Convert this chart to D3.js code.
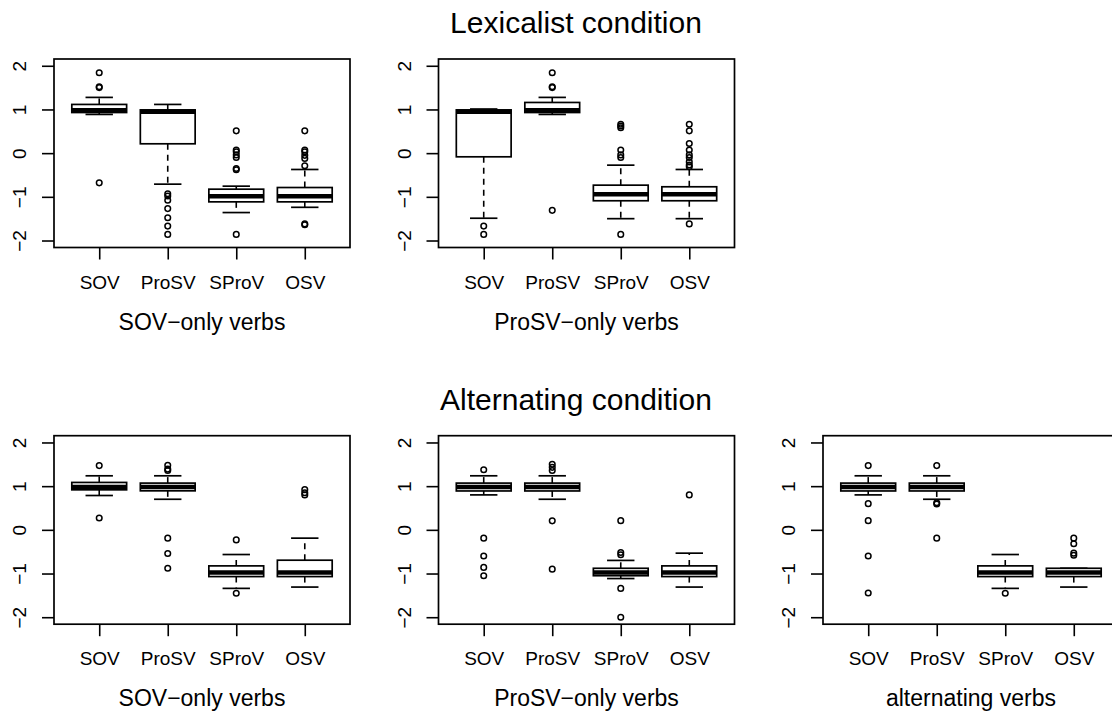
<!DOCTYPE html>
<html>
<head>
<meta charset="utf-8">
<script src="https://cdn.jsdelivr.net/npm/d3@7"></script>
<style>
  body { margin: 0; background: #fff; }
  svg { display: block; font-family: "Liberation Sans", Arial, sans-serif; }
</style>
</head>
<body>
<div id="chart"></div>
<script>
// categories and axis ticks
var categories = ["SOV", "ProSV", "SProV", "OSV"];
var yTicks = [-2, -1, 0, 1, 2];
var rowTitles = ["Lexicalist condition", "Alternating condition"];
var panelTitles = ["SOV\u2212only verbs", "ProSV\u2212only verbs", "SOV\u2212only verbs", "ProSV\u2212only verbs", "alternating verbs"];

// box stats per category: [lower whisker, Q1, median, Q3, upper whisker]
var lexSovStats = [[0.886, 0.93, 0.98, 1.115, 1.276], [-0.71, 0.214, 0.95, 0.99, 1.115], [-1.36, -1.115, -0.985, -0.825, -0.756], [-1.24, -1.115, -0.985, -0.787, -0.374]];
var lexSovOut = [[1.84, 1.52, 1.50, -0.68], [-0.93, -0.98, -1.08, -1.27, -1.48, -1.67, -1.86], [0.51, 0.07, 0.03, -0.04, -0.1, -0.35, -0.38, -1.86], [0.51, 0.07, 0.03, -0.05, -0.12, -0.29, -1.62, -1.64]];

var lexProStats = [[-1.49, -0.084, 0.95, 0.99, 1.01], [0.886, 0.93, 0.98, 1.16, 1.276], [-1.5, -1.09, -0.94, -0.733, -0.275], [-1.5, -1.09, -0.94, -0.77, -0.374]];
var lexProOut = [[-1.67, -1.86], [1.84, 1.52, 1.50, -1.31], [0.66, 0.62, 0.58, 0.07, -0.04, -0.1, -1.86], [0.66, 0.51, 0.22, 0.07, -0.04, -0.1, -0.2, -0.27, -0.31, -1.62]];

var altSovStats = [[0.786, 0.916, 0.978, 1.085, 1.237], [0.70, 0.893, 0.98, 1.07, 1.237], [-1.34, -1.07, -0.977, -0.825, -0.565], [-1.31, -1.07, -0.977, -0.695, -0.19]];
var altSovOut = [[1.47, 0.27], [1.48, 1.39, 1.36, -0.19, -0.54, -0.88], [-0.23, -1.45], [0.92, 0.85, 0.80]];

var altProStats = [[0.80, 0.89, 0.98, 1.07, 1.237], [0.70, 0.89, 0.98, 1.07, 1.237], [-1.115, -1.05, -0.977, -0.88, -0.70], [-1.31, -1.07, -0.977, -0.825, -0.534]];
var altProOut = [[1.375, -0.19, -0.60, -0.86, -1.05], [1.5, 1.43, 1.36, 0.206, -0.9], [0.21, -0.52, -0.57, -1.34, -2.0], [0.80]];

var altAltStats = [[0.80, 0.89, 0.98, 1.07, 1.237], [0.70, 0.89, 0.98, 1.07, 1.237], [-1.34, -1.07, -0.977, -0.825, -0.565], [-1.31, -1.07, -0.977, -0.88, -0.88]];
var altAltOut = [[1.47, 0.60, 0.21, -0.60, -1.445], [1.47, 0.62, 0.59, -0.19], [-1.45], [-0.19, -0.32, -0.534, -0.58]];

var panels = [
    { row: 0, col: 0, title: panelTitles[0], stats: lexSovStats, out: lexSovOut },
    { row: 0, col: 1, title: panelTitles[1], stats: lexProStats, out: lexProOut },
    { row: 1, col: 0, title: panelTitles[2], stats: altSovStats, out: altSovOut },
    { row: 1, col: 1, title: panelTitles[3], stats: altProStats, out: altProOut },
    { row: 1, col: 2, title: panelTitles[4], stats: altAltStats, out: altAltOut }
];

var width = 1112, height = 715;
var panelW = 296, panelH = 188.5;
var panelLeft = 54, panelStep = 384.5;
var rowTop = [59, 435.7];
var titleY = [33, 410];

var svg = d3.select("#chart").append("svg")
    .attr("width", width)
    .attr("height", height);

svg.selectAll("text.rowtitle")
    .data(rowTitles)
    .enter()
    .append("text")
    .attr("class", "rowtitle")
    .attr("x", 576)
    .attr("y", function (d, i) { return titleY[i]; })
    .attr("text-anchor", "middle")
    .style("font-size", "30px")
    .text(function (d) { return d; });

var x = d3.scaleLinear().domain([0.34, 4.66]).range([0, panelW]);
var y = d3.scaleLinear().domain([-2.16, 2.155]).range([panelH, 0]);
var boxW = x(0.8) - x(0);
var stapleW = boxW / 2;

panels.forEach(function (p) {
    var g = svg.append("g")
        .attr("transform", "translate(" + (panelLeft + p.col * panelStep) + "," + rowTop[p.row] + ")");

    // y axis with rotated labels
    var ya = g.append("g")
        .call(d3.axisLeft(y).tickValues(yTicks).tickSize(12).tickSizeOuter(0).tickFormat(d3.format("d")));
    ya.selectAll("line").attr("stroke-width", 1.6);
    ya.selectAll("text")
        .attr("transform", "rotate(-90)")
        .attr("x", 0)
        .attr("y", -28)
        .attr("dy", 0)
        .attr("text-anchor", "middle")
        .attr("fill", "#000")
        .style("font-size", "19px")
        .style("font-family", "Liberation Sans, Arial, sans-serif");

    // x axis
    var xa = g.append("g")
        .attr("transform", "translate(0," + panelH + ")")
        .call(d3.axisBottom(x).tickValues([1, 2, 3, 4]).tickSize(12).tickSizeOuter(0)
            .tickFormat(function (d) { return categories[d - 1]; }));
    xa.selectAll("line").attr("stroke-width", 1.6);
    xa.selectAll("text")
        .attr("y", 41)
        .attr("dy", 0)
        .attr("fill", "#000")
        .style("font-size", "19px")
        .style("font-family", "Liberation Sans, Arial, sans-serif");
    ya.select(".domain").remove();
    xa.select(".domain").remove();

    g.append("text")
        .attr("x", panelW / 2)
        .attr("y", panelH + 82)
        .attr("text-anchor", "middle")
        .style("font-size", "23px")
        .text(p.title);

    var boxes = g.selectAll("g.box")
        .data(p.stats)
        .enter()
        .append("g")
        .attr("class", "box")
        .attr("transform", function (d, i) { return "translate(" + x(i + 1) + ",0)"; });

    // whiskers
    boxes.append("line")
        .attr("y1", function (d) { return y(d[3]); })
        .attr("y2", function (d) { return y(d[4]); })
        .attr("stroke", "#000").attr("stroke-width", 1.6).attr("stroke-dasharray", "6,5");
    boxes.append("line")
        .attr("y1", function (d) { return y(d[1]); })
        .attr("y2", function (d) { return y(d[0]); })
        .attr("stroke", "#000").attr("stroke-width", 1.6).attr("stroke-dasharray", "6,5");
    // staples
    [0, 4].forEach(function (k) {
        boxes.append("line")
            .attr("x1", -stapleW / 2).attr("x2", stapleW / 2)
            .attr("y1", function (d) { return y(d[k]); })
            .attr("y2", function (d) { return y(d[k]); })
            .attr("stroke", "#000").attr("stroke-width", 1.7);
    });
    // box
    boxes.append("rect")
        .attr("x", -boxW / 2)
        .attr("width", boxW)
        .attr("y", function (d) { return y(d[3]); })
        .attr("height", function (d) { return y(d[1]) - y(d[3]); })
        .attr("fill", "#fff").attr("stroke", "#000").attr("stroke-width", 1.7);
    // median
    boxes.append("line")
        .attr("x1", -boxW / 2).attr("x2", boxW / 2)
        .attr("y1", function (d) { return y(d[2]); })
        .attr("y2", function (d) { return y(d[2]); })
        .attr("stroke", "#000").attr("stroke-width", 4.5);

    // outliers
    boxes.each(function (d, i) {
        d3.select(this).selectAll("circle")
            .data(p.out[i])
            .enter()
            .append("circle")
            .attr("cx", 0)
            .attr("cy", function (v) { return y(v); })
            .attr("r", 2.8)
            .attr("fill", "none")
            .attr("stroke", "#000")
            .attr("stroke-width", 1.5);
    });

    // frame
    g.append("rect")
        .attr("width", panelW)
        .attr("height", panelH)
        .attr("fill", "none")
        .attr("stroke", "#000")
        .attr("stroke-width", 1.7);
});
</script>
</body>
</html>
